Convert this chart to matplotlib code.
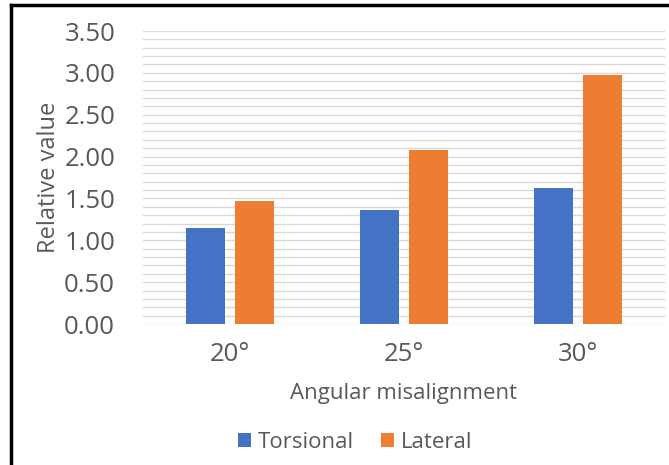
import matplotlib
matplotlib.use("Agg")
import matplotlib.pyplot as plt
import numpy as np
from matplotlib.patches import Patch
from matplotlib.lines import Line2D

categories = ["20°", "25°", "30°"]
torsional = [1.15, 1.36, 1.63]
lateral = [1.47, 2.08, 2.98]
series_names = ["Torsional", "Lateral"]
yticks = [0.0, 0.5, 1.0, 1.5, 2.0, 2.5, 3.0, 3.5]

plt.rcParams['font.family'] = ['Open Sans', 'DejaVu Sans']
TXT = '#595959'
BLUE = '#4472C4'
ORANGE = '#ED7D31'

fig = plt.figure(figsize=(6.69, 4.65), dpi=100)
ax = fig.add_axes([143/669, 141/465, 522/669, 293/465])

x = np.arange(len(categories))
w = 0.224
off = 0.141
ax.bar(x - off, torsional, width=w, color=BLUE, zorder=3)
ax.bar(x + off, lateral, width=w, color=ORANGE, zorder=3)

ax.set_xlim(-0.5, len(categories) - 0.5)
ax.set_ylim(0, 3.5)
ax.set_yticks(yticks)
ax.set_yticklabels([f"{v:.2f}" for v in yticks])
ax.set_yticks(np.arange(0, 3.51, 0.1), minor=True)
ax.grid(axis='y', which='both', color='#d9d9d9', linewidth=1.0, zorder=0)
ax.set_xticks(x)
ax.set_xticklabels(categories)
for s in ax.spines.values():
    s.set_visible(False)
ax.tick_params(axis='both', which='both', length=0, colors=TXT, labelsize=18.5)
ax.tick_params(axis='y', pad=20)
ax.tick_params(axis='x', pad=13)
ax.set_xlabel("Angular misalignment", fontsize=16, color=TXT, labelpad=11.5)
ax.set_ylabel("Relative value", fontsize=17, color=TXT, labelpad=2)

handles = [Patch(facecolor=BLUE, label=series_names[0]),
           Patch(facecolor=ORANGE, label=series_names[1])]
fig.legend(handles=handles, loc='center', bbox_to_anchor=(355/669, 1 - 442/465),
           ncol=2, frameon=False, fontsize=16, labelcolor=TXT,
           handlelength=0.6, handleheight=0.6, handletextpad=0.3, columnspacing=1.2)

# outer border (left and top visible)
fig.add_artist(Line2D([11/669, 11/669], [0, 1 - 5/465], transform=fig.transFigure, color='black', linewidth=2.5))
fig.add_artist(Line2D([11/669, 1], [1 - 5/465, 1 - 5/465], transform=fig.transFigure, color='black', linewidth=2.5))

fig.savefig("out.png", dpi=100)
